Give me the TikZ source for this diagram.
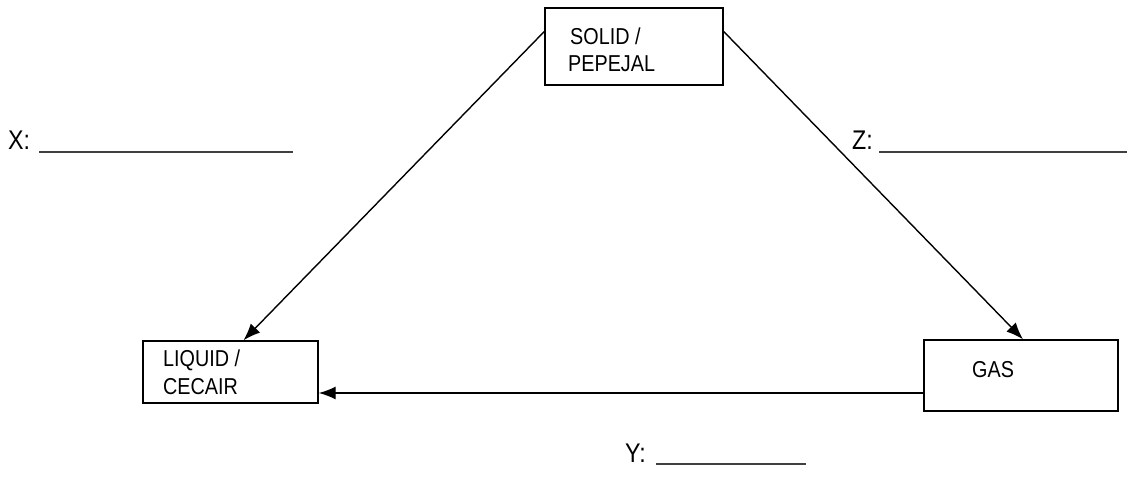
\documentclass[tikz,border=0pt]{standalone}
\usepackage{fontspec}
\setmainfont{Liberation Sans}[FakeStretch=0.86]
\usetikzlibrary{arrows.meta}
\begin{document}
\begin{tikzpicture}[x=1pt,y=-1pt,
  box/.style={draw, line width=1.4pt, inner sep=0pt},
  boxtext/.style={anchor=base west, inner sep=0pt, font=\fontsize{23}{27}\selectfont},
  labeltext/.style={anchor=base west, inner sep=0pt, font=\fontsize{27}{32}\selectfont},
  blank/.style={line width=1.6pt, draw=black!75},
  arr/.style={line width=1.4pt, -{Latex[length=17pt,width=13pt]}}]
\useasboundingbox (0,0) rectangle (1128,489);
% boxes
\node[box, minimum width=178pt, minimum height=77pt] (solid) at (634,46.5) {};
\node[box, minimum width=175pt, minimum height=62pt] (liquid) at (230.5,372) {};
\node[box, minimum width=194pt, minimum height=71pt] (gas) at (1021,375.5) {};
% box texts
\node[boxtext] (t1) at (570,45) {SOLID /};
\node[boxtext] (t2) at (568,72) {PEPEJAL};
\node[boxtext] (t3) at (163,366) {LIQUID /};
\node[boxtext] (t4) at (163,394) {CECAIR};
\node[boxtext] (t5) at (972,377) {GAS};
% arrows
\coordinate (s1) at ([yshift=15pt]solid.west);
\coordinate (s2) at ([yshift=15pt]solid.east);
\coordinate (l1) at ([xshift=13pt]liquid.north);
\coordinate (g0) at ([xshift=2pt]gas.north);
\coordinate (g1) at ([yshift=-17.5pt]gas.west);
\draw[arr] (s1) -- (l1);
\draw[arr] (s2) -- (g0);
\draw[arr] (g1) -- (g1 -| liquid.east);
% labels
\node[labeltext] (xl) at (8,150) {X:};
\node[labeltext] (zl) at (852,150) {Z:};
\node[labeltext] (yl) at (625,462) {Y:};
\draw[blank] (39,152) -- (293,152);
\draw[blank] (879,152) -- (1127,152);
\draw[blank] (656,464) -- (806,464);
\end{tikzpicture}
\end{document}
